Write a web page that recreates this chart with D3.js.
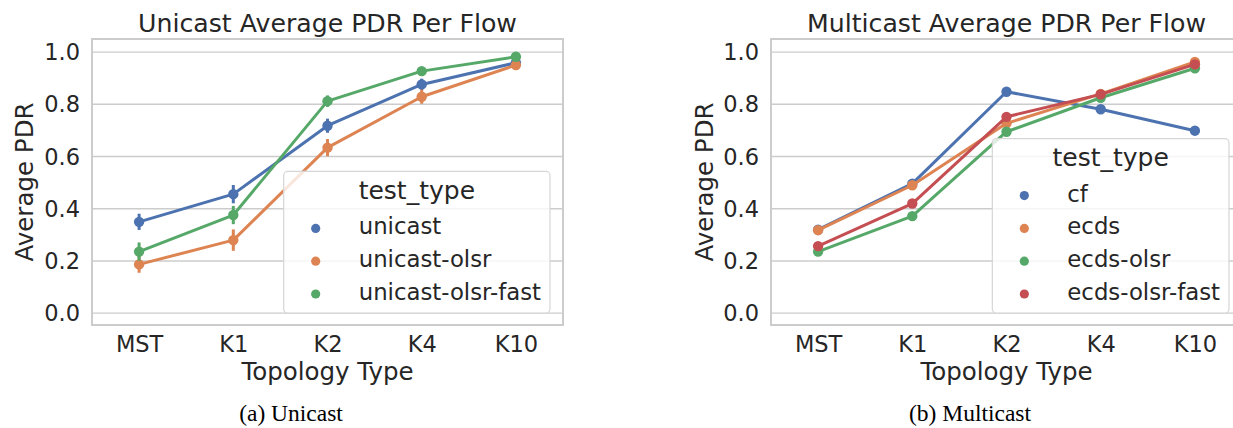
<!DOCTYPE html>
<html>
<head>
<meta charset="utf-8">
<script src="https://cdn.jsdelivr.net/npm/d3@7"></script>
<style>
  html, body { margin: 0; padding: 0; background: #ffffff; }
  svg { display: block; }
</style>
</head>
<body>
<svg id="chart" width="1233" height="428"></svg>
<script>
// ---- data ---------------------------------------------------------------
const categories = ["MST", "K1", "K2", "K4", "K10"];
const yTicks = [0.0, 0.2, 0.4, 0.6, 0.8, 1.0];

// Unicast: mean PDR per flow and confidence half-width
const unicastSeries = ["unicast", "unicast-olsr", "unicast-olsr-fast"];
const unicastPDR          = [0.348, 0.454, 0.716, 0.874, 0.957];
const unicastErr          = [0.031, 0.035, 0.027, 0.022, 0.010];
const unicastOlsrPDR      = [0.185, 0.278, 0.632, 0.827, 0.948];
const unicastOlsrErr      = [0.032, 0.041, 0.033, 0.027, 0.010];
const unicastOlsrFastPDR  = [0.234, 0.374, 0.810, 0.925, 0.980];
const unicastOlsrFastErr  = [0.035, 0.035, 0.022, 0.010, 0.008];

// Multicast: mean PDR per flow
const multicastSeries = ["cf", "ecds", "ecds-olsr", "ecds-olsr-fast"];
const cfPDR           = [0.318, 0.494, 0.846, 0.779, 0.697];
const ecdsPDR         = [0.316, 0.488, 0.725, 0.838, 0.960];
const ecdsOlsrPDR     = [0.234, 0.370, 0.693, 0.823, 0.936];
const ecdsOlsrFastPDR = [0.255, 0.418, 0.750, 0.836, 0.951];

const palette = ["#4c72b0", "#dd8452", "#55a868", "#c44e52"];

// ---- layout -------------------------------------------------------------
const svg = d3.select("#chart");
const FONT = "'DejaVu Sans', sans-serif";
const TEXT = "#262626";
const GRID = "#cccccc";
const plotTop = 39, plotBottom = 325;

function drawPanel(cfg) {
  const g = svg.append("g");

  const x = d3.scalePoint().domain(categories)
    .range([cfg.left, cfg.right]).padding(0.5);
  const y = d3.scaleLinear().domain([-0.047, 1.048])
    .range([plotBottom, plotTop]);

  // horizontal grid + y tick labels
  const yAxis = g.append("g")
    .attr("transform", `translate(${cfg.left},0)`)
    .call(d3.axisLeft(y).tickValues(yTicks).tickFormat(d3.format(".1f"))
      .tickSize(-(cfg.right - cfg.left)).tickPadding(12));
  yAxis.select(".domain").remove();
  yAxis.selectAll(".tick line").attr("stroke", GRID).attr("stroke-width", 1.3);
  yAxis.selectAll(".tick text")
    .attr("font-family", FONT).attr("font-size", 22.5).attr("fill", TEXT)
    .attr("dy", "0.36em");

  // x tick labels
  const xAxis = g.append("g")
    .attr("transform", `translate(0,${plotBottom})`)
    .call(d3.axisBottom(x).tickSize(0).tickPadding(11));
  xAxis.select(".domain").remove();
  xAxis.selectAll(".tick text")
    .attr("font-family", FONT).attr("font-size", 22.5).attr("fill", TEXT);

  // frame
  g.append("rect")
    .attr("x", cfg.left).attr("y", plotTop)
    .attr("width", cfg.right - cfg.left).attr("height", plotBottom - plotTop)
    .attr("fill", "none").attr("stroke", GRID).attr("stroke-width", 2);

  // series: line, error bars, markers
  const line = d3.line().x((d, i) => x(categories[i])).y(d => y(d));
  cfg.values.forEach((vals, si) => {
    const color = palette[si];
    const sg = g.append("g");
    sg.append("path").datum(vals)
      .attr("d", line).attr("fill", "none")
      .attr("stroke", color).attr("stroke-width", 3)
      .attr("stroke-linejoin", "round");
    if (cfg.errors) {
      sg.selectAll("line.err").data(cfg.errors[si]).join("line")
        .attr("class", "err")
        .attr("x1", (d, i) => x(categories[i]))
        .attr("x2", (d, i) => x(categories[i]))
        .attr("y1", (d, i) => y(vals[i] - d))
        .attr("y2", (d, i) => y(vals[i] + d))
        .attr("stroke", color).attr("stroke-width", 3);
    }
    sg.selectAll("circle").data(vals).join("circle")
      .attr("cx", (d, i) => x(categories[i]))
      .attr("cy", d => y(d))
      .attr("r", 5.2).attr("fill", color);
  });

  // title
  const cx = (cfg.left + cfg.right) / 2;
  g.append("text").attr("x", cx).attr("y", 32)
    .attr("text-anchor", "middle").attr("font-family", FONT)
    .attr("font-size", 25.2).attr("fill", TEXT).text(cfg.title);

  // axis labels
  g.append("text").attr("x", cx).attr("y", 380)
    .attr("text-anchor", "middle").attr("font-family", FONT)
    .attr("font-size", 24.5).attr("fill", TEXT).text("Topology Type");
  g.append("text")
    .attr("transform", `translate(${cfg.ylabelX},${(plotTop + plotBottom) / 2}) rotate(-90)`)
    .attr("text-anchor", "middle").attr("font-family", FONT)
    .attr("font-size", 24.5).attr("fill", TEXT).text("Average PDR");

  // legend (lower right)
  const lg = g.append("g");
  const n = cfg.series.length;
  const boxRight = cfg.right - 13;
  const boxBottom = plotBottom - 12;
  const step = 32.8;
  const boxHeight = 19 + (n - 1) * step + 29.5 + 27.5;
  const boxTop = boxBottom - boxHeight;
  const rect = lg.append("rect");
  const labels = lg.selectAll("text.item").data(cfg.series).join("text")
    .attr("class", "item")
    .attr("y", (d, i) => boxTop + 27.5 + 29.5 + i * step + 6)
    .attr("font-family", FONT).attr("font-size", 22.8).attr("fill", TEXT)
    .text(d => d);
  let maxLen = 0;
  labels.each(function () { maxLen = Math.max(maxLen, this.getComputedTextLength()); });
  const boxWidth = maxLen + 84;
  const boxLeft = boxRight - boxWidth;
  rect.attr("x", boxLeft).attr("y", boxTop)
    .attr("width", boxWidth).attr("height", boxHeight)
    .attr("rx", 4).attr("ry", 4)
    .attr("fill", "#ffffff").attr("fill-opacity", 0.8)
    .attr("stroke", "#d6d6d6").attr("stroke-width", 1.2);
  rect.lower();
  labels.attr("x", boxLeft + 75);
  lg.selectAll("circle").data(cfg.series).join("circle")
    .attr("cx", boxLeft + 32)
    .attr("cy", (d, i) => boxTop + 27.5 + 29.5 + i * step)
    .attr("r", 4.6)
    .attr("fill", (d, i) => palette[i]);
  lg.append("text")
    .attr("x", boxLeft + boxWidth / 2).attr("y", boxTop + 27.5)
    .attr("text-anchor", "middle").attr("font-family", FONT)
    .attr("font-size", 25).attr("fill", TEXT).text("test_type");

  // caption
  svg.append("text").attr("x", cfg.captionX).attr("y", 421)
    .attr("text-anchor", "middle")
    .attr("font-family", "'Liberation Serif', 'Times New Roman', serif")
    .attr("font-size", 23.5).attr("fill", "#000000").text(cfg.caption);
}

drawPanel({
  left: 92, right: 563, ylabelX: 33,
  title: "Unicast Average PDR Per Flow",
  series: unicastSeries,
  values: [unicastPDR, unicastOlsrPDR, unicastOlsrFastPDR],
  errors: [unicastErr, unicastOlsrErr, unicastOlsrFastErr],
  caption: "(a) Unicast", captionX: 291
});

drawPanel({
  left: 771, right: 1242, ylabelX: 713,
  title: "Multicast Average PDR Per Flow",
  series: multicastSeries,
  values: [cfPDR, ecdsPDR, ecdsOlsrPDR, ecdsOlsrFastPDR],
  errors: null,
  caption: "(b) Multicast", captionX: 970
});
</script>
</body>
</html>
